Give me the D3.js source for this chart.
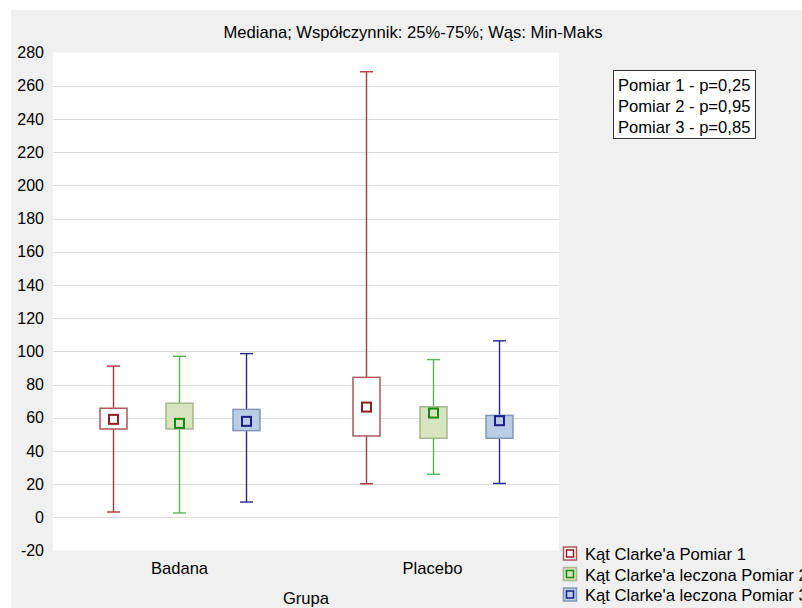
<!DOCTYPE html>
<html>
<head>
<meta charset="utf-8">
<script src="https://cdn.jsdelivr.net/npm/d3@7/dist/d3.min.js"></script>
<style>
  html, body { margin: 0; padding: 0; background: #ffffff; }
  svg { display: block; font-family: "Liberation Sans", Arial, sans-serif; }
</style>
</head>
<body>
<svg id="chart" width="802" height="608"></svg>
<script>
// Groups on the x axis
const groups = ["Badana", "Placebo"];
// Measurement series (one box per group)
const series = ["Kąt Clarke'a Pomiar 1", "Kąt Clarke'a leczona Pomiar 2", "Kąt Clarke'a leczona Pomiar 3"];
// Statistics per series, indexed by group: [Badana, Placebo]
const minVals    = [[3.2, 20.2], [2.6, 25.9], [9.2, 20.4]];
const q1Vals     = [[53.2, 49.0], [53.2, 47.6], [52.2, 47.6]];
const medianVals = [[59.0, 66.4], [56.6, 62.8], [57.8, 58.2]];
const q3Vals     = [[65.7, 84.3], [68.7, 66.6], [65.0, 61.4]];
const maxVals    = [[91.1, 268.4], [97.0, 95.0], [98.6, 106.3]];
// Y axis ticks
const yTicks = [-20, 0, 20, 40, 60, 80, 100, 120, 140, 160, 180, 200, 220, 240, 260, 280];
// Test results shown in the note box
const pNotes = ["Pomiar 1 - p=0,25", "Pomiar 2 - p=0,95", "Pomiar 3 - p=0,85"];
const title = "Mediana; Współczynnik: 25%-75%; Wąs: Min-Maks";
const xTitle = "Grupa";

// Visual style per series
const styles = [
  { whisker: "#a23a3c", boxStroke: "#b0575a", fill: "#ffffff", marker: "#8e1f22" },
  { whisker: "#5ab35a", boxStroke: "#a7b58c", fill: "#d7e4bd", marker: "#138a13" },
  { whisker: "#26268e", boxStroke: "#8197b7", fill: "#b9cde5", marker: "#1c1c8a" }
];

const svg = d3.select("#chart");
const W = 802, H = 608;
const plot = { left: 53, right: 559, top: 52.5, bottom: 550.5 };
const FS = 16.6;

// Panel background
svg.append("rect").attr("x", 11).attr("y", 10).attr("width", W - 11).attr("height", H - 10)
  .attr("fill", "#f0f0f0");
svg.append("rect").attr("x", plot.left).attr("y", plot.top)
  .attr("width", plot.right - plot.left).attr("height", plot.bottom - plot.top)
  .attr("fill", "#ffffff");

const y = d3.scaleLinear().domain([-20, 280]).range([plot.bottom, plot.top]);
const x = d3.scaleBand().domain(groups).range([plot.left, plot.right]).padding(0);
const xs = d3.scaleBand().domain(d3.range(series.length)).range([0, x.bandwidth()])
  .paddingInner(0.597).paddingOuter(0.687);

// Grid lines
svg.append("g").selectAll("line")
  .data(yTicks.filter(t => t > -20 && t < 280))
  .join("line")
  .attr("x1", plot.left).attr("x2", plot.right)
  .attr("y1", d => Math.round(y(d)) + 0.5).attr("y2", d => Math.round(y(d)) + 0.5)
  .attr("stroke", "#dcdcdc").attr("stroke-width", 1);

// Y axis labels (plain hyphen for negatives)
const yAxis = d3.axisLeft(y).tickValues(yTicks).tickFormat(d => String(d)).tickSize(0).tickPadding(9);
const yG = svg.append("g").attr("transform", `translate(${plot.left},0)`).call(yAxis);
yG.select(".domain").remove();
yG.selectAll("text").attr("font-size", 16).attr("fill", "#000").attr("font-family", "Liberation Sans, Arial, sans-serif");

// X axis labels
const xAxis = d3.axisBottom(x).tickSize(0).tickPadding(12);
const xG = svg.append("g").attr("transform", `translate(0,${plot.bottom})`).call(xAxis);
xG.select(".domain").remove();
xG.selectAll("text").attr("font-size", FS).attr("fill", "#000").attr("font-family", "Liberation Sans, Arial, sans-serif");

// Boxes
const boxW = xs.bandwidth();
const capW = 13;
const markerS = 9;
const cells = [];
series.forEach((s, si) => groups.forEach((g, gi) => cells.push({
  si, gi, g,
  min: minVals[si][gi], q1: q1Vals[si][gi], med: medianVals[si][gi],
  q3: q3Vals[si][gi], max: maxVals[si][gi]
})));

const boxG = svg.append("g");
cells.forEach(d => {
  const st = styles[d.si];
  const cx = Math.round(x(d.g) + xs(d.si) + boxW / 2) + 0.5;
  const grp = boxG.append("g");
  // whisker
  grp.append("line").attr("x1", cx).attr("x2", cx)
    .attr("y1", y(d.max)).attr("y2", y(d.min))
    .attr("stroke", st.whisker).attr("stroke-width", 1.4);
  [d.max, d.min].forEach(v => grp.append("line")
    .attr("x1", cx - capW / 2).attr("x2", cx + capW / 2)
    .attr("y1", y(v)).attr("y2", y(v))
    .attr("stroke", st.whisker).attr("stroke-width", 1.4));
  // box
  grp.append("rect")
    .attr("x", cx - boxW / 2).attr("y", y(d.q3))
    .attr("width", boxW).attr("height", y(d.q1) - y(d.q3))
    .attr("fill", st.fill).attr("stroke", st.boxStroke).attr("stroke-width", 1.5);
  // median marker
  grp.append("rect")
    .attr("x", cx - markerS / 2).attr("y", y(d.med) - markerS / 2)
    .attr("width", markerS).attr("height", markerS)
    .attr("fill", st.fill).attr("stroke", st.marker).attr("stroke-width", 2);
});

// Title
svg.append("text").attr("x", 413).attr("y", 38).attr("text-anchor", "middle")
  .attr("font-size", FS).attr("fill", "#000").text(title);

// X axis title
svg.append("text").attr("x", 306).attr("y", 604).attr("text-anchor", "middle")
  .attr("font-size", FS).attr("fill", "#000").text(xTitle);

// Note box with p-values
const note = svg.append("g");
note.append("rect").attr("x", 613.5).attr("y", 70.5).attr("width", 142).attr("height", 68)
  .attr("fill", "#ffffff").attr("stroke", "#333").attr("stroke-width", 1);
note.selectAll("text").data(pNotes).join("text")
  .attr("x", 618).attr("y", (d, i) => 91 + i * 21)
  .attr("font-size", FS).attr("fill", "#000").text(d => d);

// Legend
const leg = svg.append("g");
series.forEach((s, i) => {
  const st = styles[i];
  const ly = 554 + i * 20.5;
  leg.append("rect").attr("x", 563.5).attr("y", ly - 7).attr("width", 13).attr("height", 13)
    .attr("fill", st.fill).attr("stroke", st.boxStroke).attr("stroke-width", 1.5);
  leg.append("rect").attr("x", 566.5).attr("y", ly - 4).attr("width", 7).attr("height", 7)
    .attr("fill", st.fill).attr("stroke", st.marker).attr("stroke-width", 1.5);
  leg.append("text").attr("x", 585).attr("y", ly + 6)
    .attr("font-size", FS).attr("fill", "#000").text(s);
});
</script>
</body>
</html>
